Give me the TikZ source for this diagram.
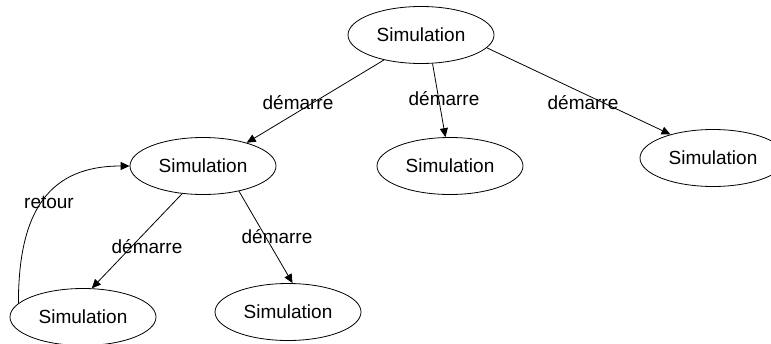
\documentclass[tikz,border=0pt]{standalone}
\usepackage{fontspec}
\setmainfont{Liberation Sans}
\usetikzlibrary{arrows.meta,shapes.geometric}
\begin{document}
\begin{tikzpicture}[x=1pt,y=-1pt,
  simnode/.style={draw, ellipse, line width=0.8pt, minimum width=146pt, minimum height=57pt, inner sep=0pt, font=\fontsize{19}{23}\selectfont},
  edgelbl/.style={inner sep=0pt, font=\fontsize{19}{23}\selectfont},
  conn/.style={line width=0.8pt, -{Triangle[length=9pt,width=8pt]}}]
\useasboundingbox (0,0) rectangle (771,343);
\node[simnode] (T)  at (421,35)  {Simulation};
\node[simnode] (L)  at (203,166) {Simulation};
\node[simnode] (M)  at (450,166) {Simulation};
\node[simnode] (R)  at (713,158) {Simulation};
\node[simnode] (BL) at (83,317)  {Simulation};
\node[simnode] (BM) at (288,312) {Simulation};
\draw[conn] (T.-146.6) -- (L.28);
\draw[conn] (T.-68.5) -- (M.99);
\draw[conn] (T.-11) -- (R.151);
\draw[conn] (L.-127) -- (BL.73);
\draw[conn] (L.-35) -- (BM.81);
\draw[conn] (BL.168) .. controls +(0,-93) and +(-80,0) .. (L.west);
\node[edgelbl] (l1) at (298,103) {démarre};
\node[edgelbl] (l2) at (444,99)  {démarre};
\node[edgelbl] (l3) at (583,103) {démarre};
\node[edgelbl] (l4) at (147,247) {démarre};
\node[edgelbl] (l5) at (277,237) {démarre};
\node[edgelbl] (l6) at (49,202)  {retour};
\end{tikzpicture}
\end{document}
